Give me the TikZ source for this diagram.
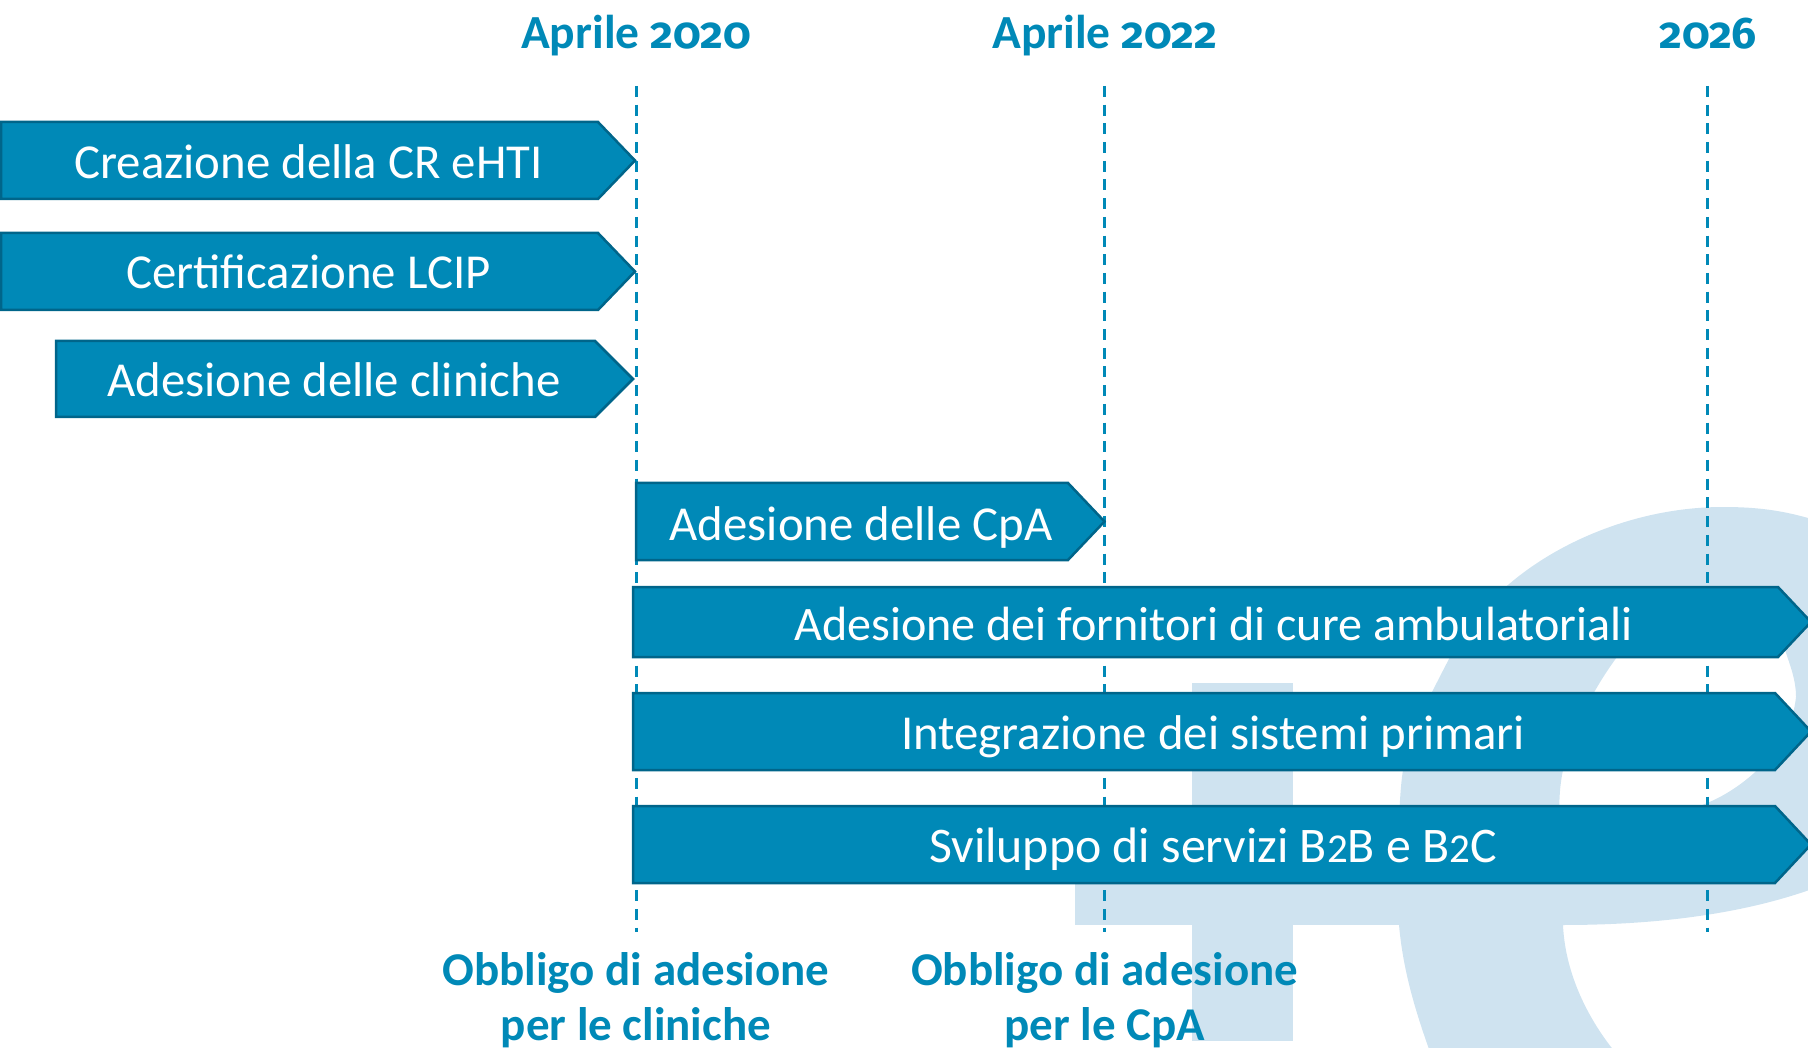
\documentclass[tikz,border=0pt]{standalone}
\usepackage{fontspec}
\setmainfont{Carlito}
\newfontfamily\oldfig[Numbers=OldStyle,Scale=0.93]{Fira Sans}
\newcommand{\smalltwo}{{\fontsize{41}{44}\selectfont 2}}
\definecolor{barfill}{HTML}{0089B7}
\definecolor{barline}{HTML}{00658A}
\definecolor{headcol}{HTML}{0089B7}
\definecolor{bgshape}{HTML}{CFE3F0}
\tikzset{
  chevron/.style={fill=barfill,draw=barline,line width=2.5pt,line join=miter},
  bartext/.style={text=white,font=\fontsize{48.8}{54}\selectfont,anchor=base,inner sep=0pt},
  headtext/.style={text=headcol,font=\bfseries\fontsize{47.5}{50}\selectfont,anchor=base,inner sep=0pt},
  foottext/.style={text=headcol,font=\bfseries\fontsize{47}{55}\selectfont,align=center,anchor=center,inner sep=0pt},
  guide/.style={draw=headcol,line width=2.5pt,dash pattern=on 11pt off 7.7pt},
  logo/.style={fill=bgshape,draw=none}
}
\newcommand{\chevbar}[9]{%
  \path[chevron] (#2,#5) -- (#3,#5) -- (#4,{(#5+#6)/2}) -- (#3,#6) -- (#2,#6) -- cycle;
  \node[bartext] (#1) at (#8,#9) {#7};
}
\begin{document}
\begin{tikzpicture}[x=1pt,y=-1pt]
\useasboundingbox (0,0) rectangle (1808,1048);
\clip (0,0) rectangle (1808,1048);
% background logo
\path[logo] (1075,860) rectangle (1420,925);
\path[logo] (1192,683) rectangle (1293,1041);
\path[logo,even odd rule]
  (1399,925) .. controls (1397,880) and (1398,800) .. (1403,770)
  .. controls (1410,735) and (1425,705) .. (1450,657)
  .. controls (1470,625) and (1490,600) .. (1508,585)
  .. controls (1560,540) and (1640,507) .. (1723,507)
  .. controls (1760,507) and (1785,511) .. (1815,520)
  -- (1815,888)
  .. controls (1760,908) and (1680,925) .. (1563,925)
  .. controls (1565,970) and (1585,1015) .. (1615,1052)
  -- (1430,1052)
  .. controls (1415,1010) and (1403,970) .. (1399,925) -- cycle
  (1617,657) .. controls (1600,680) and (1575,720) .. (1563,770)
  .. controls (1560,785) and (1559,795) .. (1559,830)
  -- (1600,830)
  .. controls (1650,826) and (1680,815) .. (1707,803)
  .. controls (1735,792) and (1790,755) .. (1796,697)
  .. controls (1796,680) and (1790,665) .. (1785,650)
  .. controls (1770,610) and (1665,600) .. (1617,657) -- cycle;
% guides
\node[headtext] (h1) at (636,49) {Aprile {\oldfig 2020}};
\node[headtext] (h2) at (1104.6,49) {Aprile {\oldfig 2022}};
\node[headtext] (h3) at (1707.6,49) {{\oldfig 2026}};
\coordinate (t1) at (636.4,86);
\coordinate (t2) at (1104.6,86);
\coordinate (t3) at (1707.6,86);
\coordinate (b1) at (636.4,932);
\coordinate (b2) at (1104.6,932);
\coordinate (b3) at (1707.6,932);
\draw[guide] (t1) -- (b1);
\draw[guide] (t2) -- (b2);
\draw[guide] (t3) -- (b3);
% bars
\chevbar{a}{1}{598}{635}{122}{199}{Creazione della CR eHTI}{308.5}{179}
\chevbar{b}{1}{598}{635}{233}{310}{Certificazione LCIP}{308.5}{289}
\chevbar{c}{56}{595}{633}{341}{417}{Adesione delle cliniche}{334}{397}
\chevbar{d}{636}{1068}{1104.5}{483}{560}{Adesione delle CpA}{861}{540}
\chevbar{e}{633}{1778}{1811}{587}{657}{\fontsize{48.1}{54}\selectfont Adesione dei fornitori di cure ambulatoriali}{1213.5}{640}
\chevbar{f}{633}{1775}{1811}{693}{770}{Integrazione dei sistemi primari}{1213}{749}
\chevbar{g}{633}{1775}{1811}{806}{883}{\fontsize{49.8}{54}\selectfont Sviluppo di servizi B\smalltwo B e B\smalltwo C}{1213}{862}
% footers
\node[foottext] (f1) at (636,1000) {Obbligo di adesione\\per le cliniche};
\node[foottext] (f2) at (1104.6,1000) {Obbligo di adesione\\per le CpA};
\end{tikzpicture}
\end{document}
